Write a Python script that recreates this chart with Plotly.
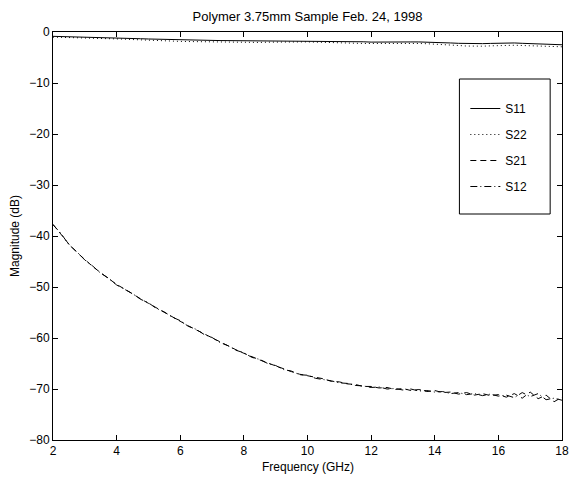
import plotly.graph_objects as go

# Frequency sweep (GHz)
freq = [2.00, 2.25, 2.50, 2.75, 3.00, 3.25, 3.50, 3.75, 4.00, 4.25, 4.50, 4.75,
        5.00, 5.25, 5.50, 5.75, 6.00, 6.25, 6.50, 6.75, 7.00, 7.25, 7.50, 7.75,
        8.00, 8.25, 8.50, 8.75, 9.00, 9.25, 9.50, 9.75, 10.00, 10.25, 10.50, 10.75,
        11.00, 11.25, 11.50, 11.75, 12.00, 12.25, 12.50, 12.75, 13.00, 13.25, 13.50, 13.75,
        14.00, 14.25, 14.50, 14.75, 15.00, 15.25, 15.50, 15.75, 16.00, 16.25, 16.50, 16.75,
        17.00, 17.25, 17.50, 17.75, 18.00]

s11 = [-0.85, -0.88, -0.92, -0.96, -1.00, -1.04, -1.08, -1.12, -1.17, -1.22, -1.27, -1.32,
       -1.37, -1.42, -1.47, -1.52, -1.56, -1.60, -1.62, -1.64, -1.66, -1.68, -1.69, -1.70,
       -1.71, -1.72, -1.73, -1.75, -1.76, -1.77, -1.79, -1.81, -1.83, -1.84, -1.83, -1.81,
       -1.79, -1.78, -1.82, -1.92, -1.98, -2.00, -2.00, -1.99, -1.97, -1.95, -1.95, -1.97,
       -2.00, -2.08, -2.15, -2.22, -2.28, -2.30, -2.28, -2.24, -2.18, -2.14, -2.15, -2.22,
       -2.30, -2.36, -2.40, -2.44, -2.50]

s22 = [-1.00, -1.03, -1.06, -1.10, -1.14, -1.18, -1.23, -1.28, -1.33, -1.40, -1.48, -1.56,
       -1.63, -1.70, -1.76, -1.80, -1.84, -1.87, -1.90, -1.93, -1.96, -1.99, -2.02, -2.05,
       -2.08, -2.08, -2.05, -2.00, -1.96, -1.93, -1.92, -1.92, -1.94, -1.98, -2.05, -2.12,
       -2.18, -2.22, -2.24, -2.25, -2.25, -2.24, -2.22, -2.20, -2.20, -2.22, -2.25, -2.30,
       -2.35, -2.45, -2.55, -2.65, -2.75, -2.80, -2.78, -2.72, -2.65, -2.60, -2.60, -2.65,
       -2.70, -2.75, -2.80, -2.85, -2.90]

s21 = [-37.7, -39.6, -41.6, -43.2, -44.6, -46.0, -47.2, -48.4, -49.5, -50.4, -51.4, -52.3,
       -53.2, -54.1, -55.0, -55.8, -56.7, -57.6, -58.4, -59.2, -60.0, -60.8, -61.6, -62.3,
       -63.0, -63.7, -64.3, -64.9, -65.5, -66.1, -66.6, -67.1, -67.4, -67.8, -68.0, -68.5,
       -68.6, -69.0, -69.1, -69.5, -69.5, -69.8, -69.7, -70.1, -69.9, -70.3, -70.1, -70.5,
       -70.3, -70.7, -70.6, -71.0, -70.7, -71.2, -70.9, -71.3, -71.1, -71.6, -70.9, -71.8,
       -70.6, -71.9, -71.2, -72.5, -71.6]

s12 = [-37.8, -39.5, -41.7, -43.1, -44.7, -45.9, -47.3, -48.3, -49.6, -50.5, -51.3, -52.4,
       -53.1, -54.2, -54.9, -55.9, -56.6, -57.7, -58.3, -59.3, -59.9, -60.9, -61.5, -62.4,
       -62.9, -63.8, -64.2, -65.0, -65.4, -66.2, -66.5, -67.2, -67.3, -67.9, -68.1, -68.4,
       -68.8, -68.9, -69.3, -69.4, -69.7, -69.6, -70.0, -69.9, -70.2, -70.0, -70.4, -70.3,
       -70.6, -70.5, -70.9, -70.7, -71.1, -70.9, -71.3, -71.0, -71.4, -71.2, -71.7, -70.7,
       -71.5, -70.9, -72.1, -71.8, -72.2]

title_text = "Polymer 3.75mm Sample Feb. 24, 1998"
x_title = "Frequency (GHz)"
y_title = "Magnitude (dB)"
x_ticks = [2, 4, 6, 8, 10, 12, 14, 16, 18]
y_ticks = [-80, -70, -60, -50, -40, -30, -20, -10, 0]

FONT = "Liberation Sans, Arial, Helvetica, sans-serif"

series = [
    ("S11", s11, "solid"),
    ("S22", s22, "1px,3px"),
    ("S21", s21, "6px,4px"),
    ("S12", s12, "7px,3px,1px,3px"),
]

fig = go.Figure()
for name, vals, dash in series:
    fig.add_trace(go.Scatter(
        x=freq, y=vals, mode="lines", name=name, legendgroup=name,
        line=dict(color="black", width=1, dash=dash),
    ))

W, H = 579, 477
L, R, T, B = 53, 10, 32, 37

fig.update_layout(
    width=W, height=H,
    margin=dict(l=L, r=R, t=T, b=B, pad=0),
    paper_bgcolor="white", plot_bgcolor="white",
    font=dict(family=FONT, size=12, color="black"),
    title=dict(text=title_text, x=0.5, xref="paper", xanchor="center",
               y=1 - 16 / H, yref="container", yanchor="middle",
               font=dict(family=FONT, size=13, color="black")),
    showlegend=True,
    legend=dict(x=(471 - L) / (W - L - R), xanchor="left",
                y=(H - B - 94) / (H - T - B), yanchor="top",
                bgcolor="rgba(0,0,0,0)", borderwidth=0,
                tracegroupgap=7, font=dict(family=FONT, size=12, color="black")),
    shapes=[dict(type="rect", xref="paper", yref="paper",
                 x0=(465 - L) / (W - L - R), x1=(557 - L) / (W - L - R),
                 y0=(H - B - 214) / (H - T - B), y1=(H - B - 79) / (H - T - B),
                 line=dict(color="black", width=1), fillcolor="white", layer="below")],
    annotations=[
        dict(text=x_title, xref="paper", yref="paper", x=0.5, y=0, yshift=-27,
             xanchor="center", yanchor="middle", showarrow=False,
             font=dict(family=FONT, size=12, color="black")),
        dict(text=y_title, xref="paper", yref="paper", x=0, y=0.5, xshift=-38,
             xanchor="center", yanchor="middle", textangle=-90, showarrow=False,
             font=dict(family=FONT, size=12, color="black")),
    ],
)

fig.update_xaxes(range=[2, 18], tickvals=x_ticks, ticks="inside", ticklen=5,
                 tickwidth=1, tickcolor="black", showline=True, linecolor="black",
                 linewidth=1, mirror="ticks", showgrid=False, zeroline=False,
                 tickfont=dict(family=FONT, size=12, color="black"))
fig.update_yaxes(range=[-80, 0], tickvals=y_ticks, ticks="inside", ticklen=5,
                 tickwidth=1, tickcolor="black", showline=True, linecolor="black",
                 linewidth=1, mirror="ticks", showgrid=False, zeroline=False,
                 tickfont=dict(family=FONT, size=12, color="black"))

fig.write_html("out.html")
